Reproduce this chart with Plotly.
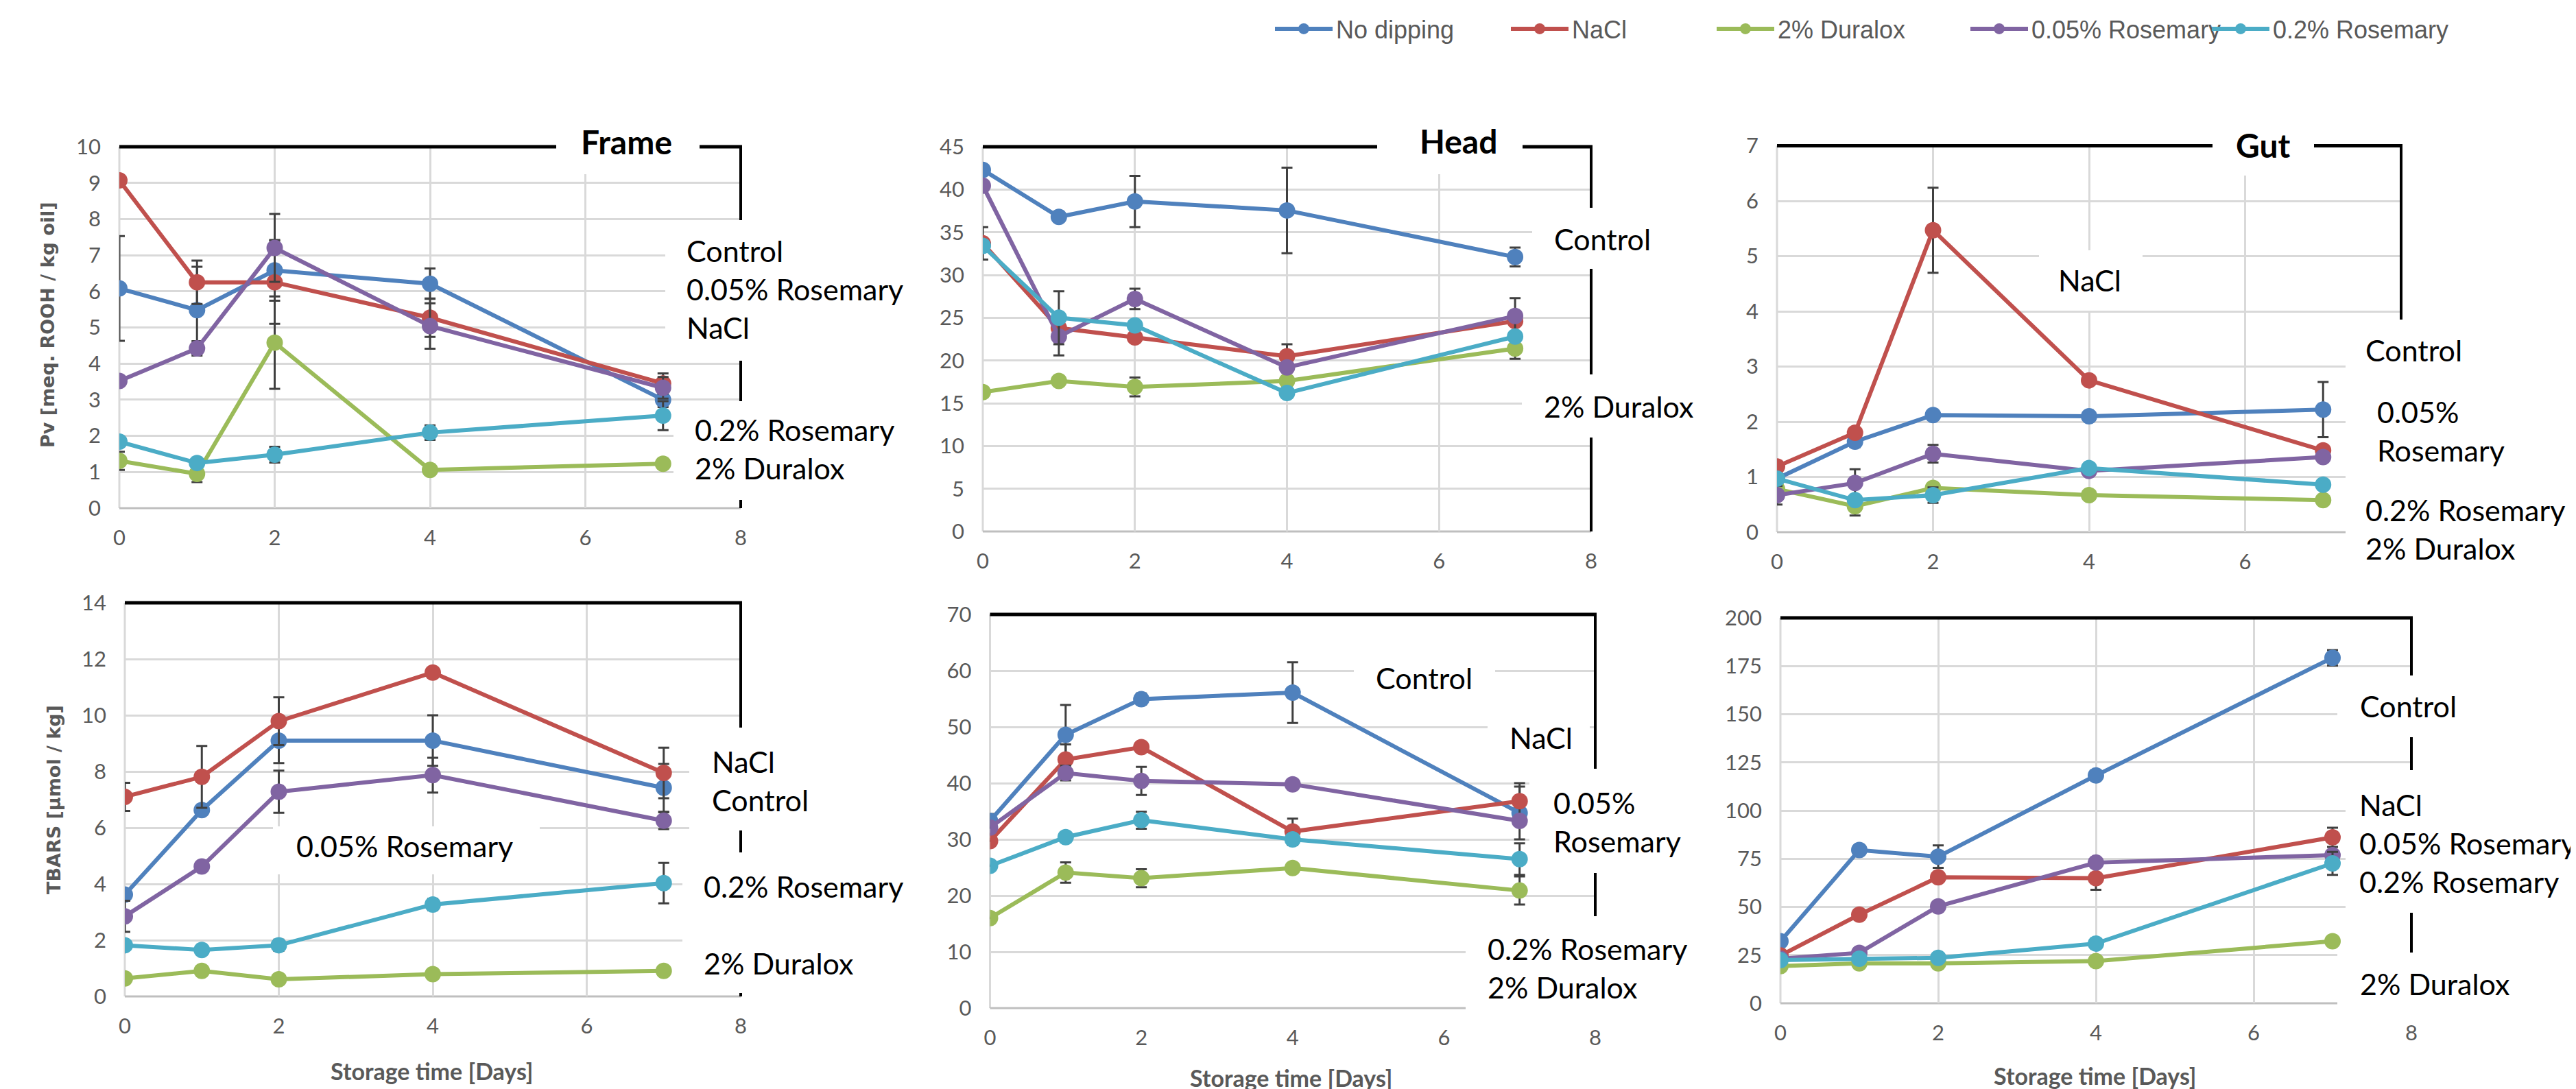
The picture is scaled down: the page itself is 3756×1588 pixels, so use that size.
import plotly.graph_objects as go

W, H = 3756, 1588

# ---------------- data ----------------
days = [0, 1, 2, 4, 7]
series_names = ["No dipping", "NaCl", "2% Duralox", "0.05% Rosemary", "0.2% Rosemary"]
series_colors = ["#4F81BD", "#C0504D", "#9BBB59", "#8064A2", "#4BACC6"]

# Peroxide value, Frame  (order: No dipping, NaCl, 2% Duralox, 0.05% Rosemary, 0.2% Rosemary)
pv_frame = [[6.08, 5.48, 6.58, 6.21, 3.00],
            [9.07, 6.25, 6.25, 5.27, 3.45],
            [1.31, 0.95, 4.58, 1.06, 1.23],
            [3.52, 4.42, 7.20, 5.04, 3.33],
            [1.84, 1.25, 1.48, 2.09, 2.56]]
pv_frame_err = [[1.45, 1.20, 0.84, 0.42, 0.20],
                [0.00, 0.60, 1.15, 0.53, 0.28],
                [0.25, 0.23, 1.28, 0.00, 0.00],
                [0.00, 0.20, 0.94, 0.63, 0.30],
                [0.00, 0.00, 0.22, 0.20, 0.40]]

# Peroxide value, Head
pv_head = [[42.3, 36.8, 38.6, 37.55, 32.1],
           [33.7, 23.8, 22.7, 20.5, 24.6],
           [16.3, 17.6, 16.9, 17.6, 21.4],
           [40.45, 22.8, 27.2, 19.2, 25.2],
           [33.4, 25.0, 24.1, 16.2, 22.8]]
pv_head_err = [[0.0, 0.0, 3.0, 5.0, 1.1],
               [1.9, 0.0, 0.0, 1.4, 0.0],
               [0.0, 0.0, 1.1, 0.0, 1.2],
               [0.0, 2.2, 1.2, 0.0, 2.1],
               [0.0, 3.1, 0.0, 0.0, 0.0]]

# Peroxide value, Gut
pv_gut = [[0.97, 1.64, 2.12, 2.10, 2.22],
          [1.19, 1.80, 5.47, 2.75, 1.48],
          [0.78, 0.47, 0.80, 0.67, 0.58],
          [0.67, 0.89, 1.42, 1.11, 1.36],
          [0.97, 0.58, 0.67, 1.16, 0.86]]
pv_gut_err = [[0.00, 0.10, 0.05, 0.00, 0.50],
              [0.00, 0.00, 0.77, 0.00, 0.00],
              [0.00, 0.17, 0.00, 0.00, 0.00],
              [0.17, 0.25, 0.16, 0.00, 0.00],
              [0.00, 0.00, 0.14, 0.00, 0.00]]

# TBARS, Frame
tbars_frame = [[3.62, 6.63, 9.10, 9.10, 7.42],
               [7.10, 7.81, 9.79, 11.52, 7.95],
               [0.64, 0.91, 0.61, 0.79, 0.91],
               [2.85, 4.62, 7.28, 7.87, 6.25],
               [1.82, 1.65, 1.82, 3.27, 4.03]]
tbars_frame_err = [[0.00, 0.00, 0.80, 0.90, 0.85],
                   [0.50, 1.10, 0.85, 0.00, 0.90],
                   [0.00, 0.00, 0.00, 0.00, 0.00],
                   [0.55, 0.00, 0.75, 0.62, 0.30],
                   [0.00, 0.00, 0.20, 0.20, 0.72]]

# TBARS, Head
tbars_head = [[33.3, 48.6, 54.95, 56.1, 34.7],
              [29.7, 44.2, 46.4, 31.4, 36.8],
              [16.0, 24.1, 23.1, 24.9, 20.9],
              [32.1, 41.8, 40.4, 39.8, 33.3],
              [25.3, 30.4, 33.4, 30.0, 26.5]]
tbars_head_err = [[1.2, 5.3, 1.0, 5.4, 4.7],
                  [0.0, 2.7, 0.0, 2.3, 3.2],
                  [0.0, 1.8, 1.6, 0.0, 2.5],
                  [0.0, 1.3, 2.5, 0.0, 0.0],
                  [0.0, 0.0, 1.5, 1.0, 2.8]]

# TBARS, Gut
tbars_gut = [[32.2, 79.5, 76.1, 118.2, 179.3],
             [24.8, 46.0, 65.4, 64.9, 86.1],
             [19.3, 20.7, 20.7, 21.9, 32.2],
             [23.1, 26.2, 50.3, 73.0, 76.9],
             [22.4, 23.1, 23.6, 31.0, 72.6]]
tbars_gut_err = [[0.0, 0.0, 5.8, 0.0, 4.0],
                 [0.0, 0.0, 0.0, 6.0, 5.0],
                 [0.0, 0.0, 0.0, 0.0, 0.0],
                 [0.0, 0.0, 0.0, 0.0, 0.0],
                 [0.0, 0.0, 0.0, 0.0, 6.0]]

x_ticks = [0, 2, 4, 6, 8]

# ---------------- layout geometry (pixels) ----------------
panels = [
    dict(vals=pv_frame, err=pv_frame_err, box=(166, 1072, 206, 733), ymax=10, dtick=1, vgrid=True, xt=x_ticks),
    dict(vals=pv_head, err=pv_head_err, box=(1425, 2312, 206, 767), ymax=45, dtick=5, vgrid=True, xt=x_ticks),
    dict(vals=pv_gut, err=pv_gut_err, box=(2583, 3493, 204.5, 768), ymax=7, dtick=1, vgrid=True, xt=x_ticks[:-1]),
    dict(vals=tbars_frame, err=tbars_frame_err, box=(174, 1072, 871, 1445), ymax=14, dtick=2, vgrid=True, xt=x_ticks),
    dict(vals=tbars_head, err=tbars_head_err, box=(1435.5, 2318, 888, 1462), ymax=70, dtick=10, vgrid=False, xt=x_ticks),
    dict(vals=tbars_gut, err=tbars_gut_err, box=(2588, 3508, 893, 1455), ymax=200, dtick=25, vgrid=True, xt=x_ticks),
]

# white label boxes (pixels: left, top, right, bottom)
white_boxes = [
    (803, 150, 1012, 246), (962, 313, 1330, 518), (974, 577, 1330, 721),
    (2000, 150, 2212, 246), (2226, 295, 2420, 384), (2211, 538, 2480, 630),
    (3218, 155, 3366, 248), (2965, 357, 3116, 445), (3412, 458, 3756, 830),
    (997, 1053, 1330, 1203), (987, 1235, 1330, 1440), (390, 1197, 779, 1267),
    (1966, 940, 2172, 1020), (2161, 1030, 2310, 1105), (2222, 1113, 2480, 1265), (2129, 1328, 2480, 1475),
    (3400, 977, 3756, 1067), (3412, 1115, 3756, 1323), (3400, 1381, 3756, 1475),
]

# labels: (text, x px, y px, anchor, bold)
labels = [
    ("Frame", 905, 198, "center", True),
    ("Head", 2118, 197, "center", True),
    ("Gut", 3292, 203, "center", True),
    ("Control<br>0.05% Rosemary<br>NaCl", 991, 413, "left", False),
    ("0.2% Rosemary<br>2% Duralox", 1003, 647, "left", False),
    ("Control", 2256, 340, "left", False),
    ("2% Duralox", 2241, 585, "left", False),
    ("NaCl", 3039, 400, "center", False),
    ("Control", 3439, 503, "left", False),
    ("0.05%<br>Rosemary", 3456, 620, "left", False),
    ("0.2% Rosemary<br>2% Duralox", 3439, 763, "left", False),
    ("NaCl<br>Control", 1028, 1130, "left", False),
    ("0.2% Rosemary<br><br>2% Duralox", 1016, 1340, "left", False),
    ("0.05% Rosemary", 582, 1225, "center", False),
    ("Control", 1996, 980, "left", False),
    ("NaCl", 2191, 1067, "left", False),
    ("0.05%<br>Rosemary", 2255, 1190, "left", False),
    ("0.2% Rosemary<br>2% Duralox", 2159, 1403, "left", False),
    ("Control", 3431, 1021, "left", False),
    ("NaCl<br>0.05% Rosemary<br>0.2% Rosemary", 3430, 1221, "left", False),
    ("2% Duralox", 3431, 1426, "left", False),
]

legend_x = [1846, 2190, 2490, 2860, 3212]

GRID = "#d9d9d9"
TICKC = "#595959"
FONT = "Lato, 'Open Sans', sans-serif"


def px(x):
    return x / W


def py(y):
    return 1 - y / H


fig = go.Figure()
layout = dict(
    width=W, height=H, margin=dict(l=0, r=0, t=0, b=0, pad=0, autoexpand=False),
    paper_bgcolor="white", plot_bgcolor="rgba(0,0,0,0)",
    font=dict(family=FONT, color=TICKC),
)

lower_shapes, border_shapes = [], []
for i, p in enumerate(panels):
    n = i + 1
    sfx = "" if n == 1 else str(n)
    l, r, t, b = p["box"]
    layout["xaxis" + sfx] = dict(
        domain=[px(l), px(r)], range=[0, 8], anchor="y" + sfx,
        tickvals=p["xt"], showgrid=p["vgrid"], gridcolor=GRID, gridwidth=3,
        zeroline=False, showline=False, ticks="", automargin=False,
        tickfont=dict(family=FONT, size=31, color=TICKC), ticklabelstandoff=22,
        fixedrange=True,
    )
    layout["yaxis" + sfx] = dict(
        domain=[py(b), py(t)], range=[0, p["ymax"]], anchor="x" + sfx,
        dtick=p["dtick"], tick0=0, showgrid=True, gridcolor=GRID, gridwidth=3,
        zeroline=False, showline=False, ticks="", automargin=False,
        tickfont=dict(family=FONT, size=31, color=TICKC), ticklabelstandoff=26,
        fixedrange=True,
    )
    # plot-area outline: gray left/bottom (under the traces), black top/right
    lower_shapes.append(dict(type="line", xref="paper", yref="paper", x0=px(l), x1=px(l), y0=py(b), y1=py(t),
                             line=dict(color=GRID, width=3), layer="below"))
    lower_shapes.append(dict(type="line", xref="paper", yref="paper", x0=px(l), x1=px(r), y0=py(b), y1=py(b),
                             line=dict(color="#bfbfbf", width=3), layer="below"))
    border_shapes.append(dict(type="line", xref="paper", yref="paper", x0=px(l), x1=px(r + 2), y0=py(t), y1=py(t),
                              line=dict(color="black", width=5), layer="above"))
    border_shapes.append(dict(type="line", xref="paper", yref="paper", x0=px(r), x1=px(r), y0=py(b), y1=py(t),
                              line=dict(color="black", width=4), layer="above"))

    for s in range(5):
        fig.add_trace(go.Scatter(
            x=days, y=p["vals"][s], name=series_names[s],
            xaxis="x" + sfx, yaxis="y" + sfx,
            mode="lines+markers",
            line=dict(color=series_colors[s], width=6),
            marker=dict(color=series_colors[s], size=24),
            error_y=dict(type="data", array=p["err"][s], visible=True,
                         color="#404040", thickness=3, width=8),
            showlegend=(i == 0),
            legend="legend" if s == 0 else "legend%d" % (s + 1),
        ))

box_shapes = [dict(type="rect", xref="paper", yref="paper", x0=px(bl), x1=px(br), y0=py(bb), y1=py(bt),
                   fillcolor="white", line=dict(width=0), layer="above")
              for (bl, bt, br, bb) in white_boxes]
layout["shapes"] = lower_shapes + border_shapes + box_shapes

for s in range(5):
    key = "legend" if s == 0 else "legend%d" % (s + 1)
    layout[key] = dict(
        x=px(legend_x[s]), y=py(34), xanchor="left", yanchor="middle",
        orientation="h", bgcolor="rgba(0,0,0,0)", itemwidth=84,
        font=dict(family="'Liberation Sans', Arial, sans-serif", size=36, color=TICKC),
    )

annotations = []
for (txt, x, y, anchor, bold) in labels:
    annotations.append(dict(
        text="<b>%s</b>" % txt if bold else txt,
        x=px(x), y=py(y), xref="paper", yref="paper",
        xanchor=anchor, yanchor="middle", align="left", showarrow=False,
        font=dict(family=FONT, size=(48 if bold else 43), color="black"),
    ))

annotations.append(dict(text="<b>Pv [meq. ROOH / kg oil]</b>", x=px(62), y=py(466), xref="paper", yref="paper",
                        textangle=-90, showarrow=False, xanchor="center", yanchor="middle",
                        font=dict(family="'DejaVu Sans', Verdana, sans-serif", size=27, color=TICKC)))
annotations.append(dict(text="<b>TBARS [µmol / kg]</b>", x=px(70), y=py(1158), xref="paper", yref="paper",
                        textangle=-90, showarrow=False, xanchor="center", yanchor="middle",
                        font=dict(family="'DejaVu Sans', Verdana, sans-serif", size=27, color=TICKC)))
for (x, y) in [(622, 1553), (1875, 1563), (3047, 1560)]:
    annotations.append(dict(text="<b>Storage time [Days]</b>", x=px(x), y=py(y), xref="paper", yref="paper",
                            showarrow=False, xanchor="center", yanchor="middle",
                            font=dict(family=FONT, size=34, color=TICKC)))

layout["annotations"] = annotations
fig.update_layout(**layout)
fig.write_html("out.html")
